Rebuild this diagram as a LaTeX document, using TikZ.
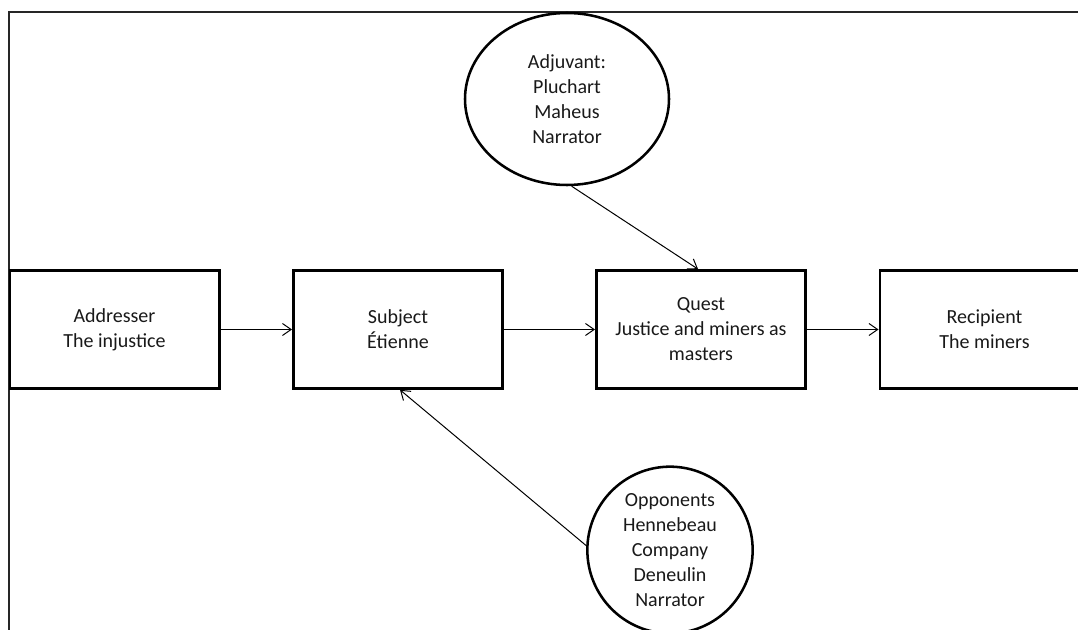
\documentclass[tikz,border=0pt]{standalone}
\usepackage{fontspec}
\setmainfont{Carlito}
\usetikzlibrary{shapes.geometric,arrows.meta}
\tikzset{
  px/.style={x=0.75pt,y=-0.75pt},
  actbox/.style={draw=black,line width=2pt,rectangle,inner sep=0pt,
    minimum width=157pt,minimum height=88.5pt,align=center,
    font=\fontsize{15}{18.75}\selectfont,text=black!90},
  actoval/.style={draw=black,line width=1.9pt,ellipse,inner sep=0pt,align=center,
    font=\fontsize{15}{18.75}\selectfont,text=black!90},
  link/.style={line width=0.75pt,-{Straight Barb[length=6.5pt,width=9pt,line width=0.75pt]}},
  frame/.style={line width=1.3pt,draw=black!85}
}
\begin{document}
\begin{tikzpicture}[px]
\useasboundingbox (0,0) rectangle (1078,630);
\clip (0,0) rectangle (1078,630);
\draw[frame] (9,700) -- (9,12) -- (1100,12);
\node[actbox] (addr) at (114.5,329.5) {Addresser\\The injustice};
\node[actbox] (subj) at (398,329.5) {Subject\\Étienne};
\node[actbox] (quest) at (701,329.5) {Quest\\Justice and miners as\\masters};
\node[actbox] (recp) at (984.5,329.5) {Recipient\\The miners};
\node[actoval,minimum width=153pt,minimum height=129pt] (adj) at (567,99) {Adjuvant:\\Pluchart\\Maheus\\Narrator};
\node[actoval,minimum width=124pt,minimum height=125pt] (opp) at (670,550) {Opponents\\Hennebeau\\Company\\Deneulin\\Narrator};
\draw[link] (addr) -- (subj);
\draw[link] (subj) -- (quest);
\draw[link] (quest) -- (recp);
\draw[link] (adj.-87) -- ([xshift=-2.2pt]quest.north);
\draw[link] (opp.177) -- ([xshift=1.5pt]subj.south);
\end{tikzpicture}
\end{document}
